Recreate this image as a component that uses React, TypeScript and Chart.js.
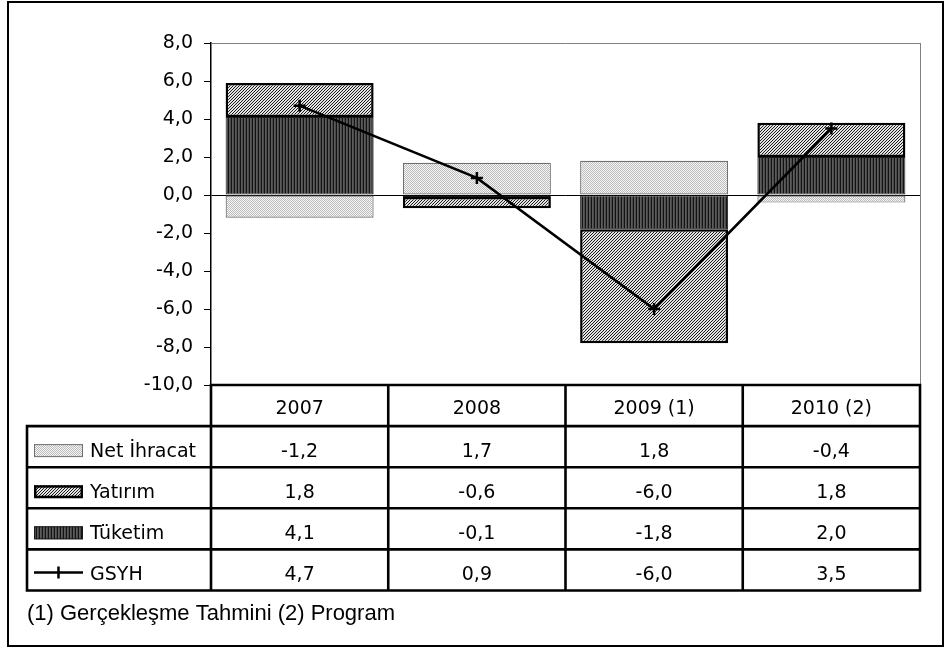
import React, { useEffect, useRef } from 'react';
import { Chart, registerables } from 'chart.js';

Chart.register(...registerables);

// ---- data ----
const categories = ['2007', '2008', '2009 (1)', '2010 (2)'];
const netIhracat = [-1.2, 1.7, 1.8, -0.4];
const yatirim = [1.8, -0.6, -6.0, 1.8];
const tuketim = [4.1, -0.1, -1.8, 2.0];
const gsyh = [4.7, 0.9, -6.0, 3.5];
const seriesLabels = ['Net İhracat', 'Yatırım', 'Tüketim', 'GSYH'];
const yMin = -10;
const yMax = 8;
const yStep = 2;
const footnote = '(1) Gerçekleşme Tahmini (2) Program';

const W = 944;
const H = 647;

function makePattern(w: number, h: number, paint: (g: CanvasRenderingContext2D) => void) {
  const c = document.createElement('canvas');
  c.width = w;
  c.height = h;
  const g = c.getContext('2d')!;
  paint(g);
  return g.createPattern(c, 'repeat')!;
}

const fmt = (v: number) => Number(v).toFixed(1).replace('.', ',');

export default function App() {
  const ref = useRef<HTMLCanvasElement>(null);

  useEffect(() => {
    const canvas = ref.current!;

    const pNet = makePattern(2, 2, (g) => {
      g.fillStyle = '#f6f6f6';
      g.fillRect(0, 0, 2, 2);
      g.fillStyle = '#bcbcbc';
      g.fillRect(0, 0, 1, 1);
      g.fillRect(1, 1, 1, 1);
    });
    const pYat = makePattern(3, 3, (g) => {
      for (let x = 0; x < 3; x++) {
        for (let y = 0; y < 3; y++) {
          g.fillStyle = (x + y) % 3 === 0 ? '#1c1c1c' : '#e2e2e2';
          g.fillRect(x, y, 1, 1);
        }
      }
    });
    const pTuk = makePattern(3, 1, (g) => {
      g.fillStyle = '#141414';
      g.fillRect(0, 0, 1, 1);
      g.fillStyle = '#5c5c5c';
      g.fillRect(1, 0, 1, 1);
      g.fillStyle = '#4a4a4a';
      g.fillRect(2, 0, 1, 1);
    });

    const tableFont = '19px "DejaVu Sans"';
    const rowH = 41.1;
    const tableLeft = 27;

    const tablePlugin = {
      id: 'dataTable',
      beforeDraw(chart: any) {
        const ctx = chart.ctx;
        ctx.save();
        ctx.fillStyle = '#ffffff';
        ctx.fillRect(0, 0, chart.width, chart.height);
        ctx.restore();
      },
      afterDraw(chart: any) {
        const ctx: CanvasRenderingContext2D = chart.ctx;
        const { left: L, right: R, top: T, bottom: B } = chart.chartArea;
        const xs = chart.scales.x;
        const n = categories.length;
        const centers = categories.map((_, i) => xs.getPixelForValue(i));
        const colW = n > 1 ? centers[1] - centers[0] : R - L;
        const bounds = [centers[0] - colW / 2, ...centers.map((c) => c + colW / 2)];

        ctx.save();
        // plot area right border (gray)
        ctx.strokeStyle = '#808080';
        ctx.lineWidth = 1;
        ctx.beginPath();
        ctx.moveTo(Math.round(R) + 0.5, T);
        ctx.lineTo(Math.round(R) + 0.5, B);
        ctx.stroke();

        // table lines
        ctx.strokeStyle = '#000';
        ctx.lineWidth = 2.6;
        ctx.lineCap = 'square';
        const rows = 5;
        ctx.beginPath();
        ctx.moveTo(L, B);
        ctx.lineTo(R, B);
        for (let k = 1; k <= rows; k++) {
          ctx.moveTo(tableLeft, B + rowH * k);
          ctx.lineTo(R, B + rowH * k);
        }
        ctx.moveTo(tableLeft, B + rowH);
        ctx.lineTo(tableLeft, B + rowH * rows);
        bounds.forEach((bx, i) => {
          ctx.moveTo(i === 0 ? L : bx, B);
          ctx.lineTo(i === 0 ? L : bx, B + rowH * rows);
        });
        ctx.stroke();

        // header labels
        ctx.fillStyle = '#000';
        ctx.font = tableFont;
        ctx.textAlign = 'center';
        ctx.textBaseline = 'alphabetic';
        categories.forEach((c, i) => ctx.fillText(c, centers[i], B + 29));

        const seriesData = [netIhracat, yatirim, tuketim, gsyh];
        seriesData.forEach((arr, r) => {
          const top = B + rowH * (r + 1);
          const base = top + 31;
          ctx.textAlign = 'center';
          ctx.fillStyle = '#000';
          arr.forEach((v, i) => ctx.fillText(fmt(v), centers[i], base));
          ctx.textAlign = 'left';
          ctx.fillText(seriesLabels[r], 90, base);
        });

        // legend swatches
        const sx = 34;
        const sw = 49;
        const sh = 13;
        const swatch = (r: number, fill: any, stroke: string, lw: number) => {
          const base = B + rowH * (r + 1) + 31;
          ctx.fillStyle = fill;
          ctx.fillRect(sx, base - sh, sw, sh);
          ctx.strokeStyle = stroke;
          ctx.lineWidth = lw;
          ctx.strokeRect(sx + lw / 2, base - sh + lw / 2, sw - lw, sh - lw);
        };
        swatch(0, pNet, '#707070', 1);
        swatch(1, pYat, '#000', 2.5);
        swatch(2, pTuk, '#1a1a1a', 1);
        // GSYH line legend
        const ly = B + rowH * 4 + 23;
        ctx.strokeStyle = '#000';
        ctx.lineWidth = 2.5;
        ctx.lineCap = 'butt';
        ctx.beginPath();
        ctx.moveTo(sx, ly);
        ctx.lineTo(sx + sw, ly);
        ctx.moveTo(sx + sw / 2, ly - 6);
        ctx.lineTo(sx + sw / 2, ly + 6);
        ctx.stroke();

        // footnote
        ctx.fillStyle = '#000';
        ctx.textAlign = 'left';
        ctx.font = '22px "Liberation Sans"';
        ctx.fillText(footnote, 27, 620);

        // outer border
        ctx.strokeStyle = '#000';
        ctx.lineWidth = 2;
        ctx.strokeRect(8, 2, 935, 644);
        ctx.restore();
      },
    };

    const barCommon = {
      type: 'bar' as const,
      barPercentage: 0.835,
      categoryPercentage: 1,
      borderSkipped: false as const,
      stack: 'bars',
      order: 1,
    };

    const chart = new Chart(canvas, {
      type: 'bar',
      data: {
        labels: categories,
        datasets: [
          { ...barCommon, label: seriesLabels[2], data: tuketim, backgroundColor: pTuk, borderColor: '#1a1a1a', borderWidth: 1 },
          { ...barCommon, label: seriesLabels[1], data: yatirim, backgroundColor: pYat, borderColor: '#000', borderWidth: 2.5 },
          { ...barCommon, label: seriesLabels[0], data: netIhracat, backgroundColor: pNet, borderColor: '#707070', borderWidth: 1.2 },
          {
            type: 'line' as const,
            label: seriesLabels[3],
            data: gsyh,
            borderColor: '#000',
            borderWidth: 2.5,
            pointStyle: 'cross',
            pointRadius: 6,
            pointBorderWidth: 2.5,
            pointBorderColor: '#000',
            pointBackgroundColor: '#000',
            tension: 0,
            fill: false,
            stack: 'line',
            order: 0,
          } as any,
        ],
      },
      options: {
        responsive: false,
        animation: false,
        layout: { padding: { left: 0, top: 43, right: 24, bottom: H - 385 } },
        plugins: {
          legend: { display: false },
          tooltip: { enabled: false },
          title: { display: false },
        },
        scales: {
          x: { display: false, stacked: true, offset: true },
          y: {
            stacked: true,
            min: yMin,
            max: yMax,
            ticks: {
              stepSize: yStep,
              callback: (v: any) => fmt(Number(v)),
              font: { family: 'DejaVu Sans', size: 19 },
              color: '#000',
              padding: 11,
            },
            grid: {
              color: (c: any) => (c.tick && c.tick.value === 0 ? '#000' : c.tick && c.tick.value === yMax ? '#808080' : 'rgba(0,0,0,0)'),
              tickColor: '#000',
              tickLength: 7,
              lineWidth: 1,
            },
            border: { display: true, color: '#000', width: 1.5 },
            afterFit: (s: any) => {
              s.width = 211;
            },
          },
        },
      } as any,
      plugins: [tablePlugin],
    });

    return () => chart.destroy();
  }, []);

  return (
    <div style={{ position: 'fixed', left: 0, top: 0, width: W, height: H, background: '#fff' }}>
      <canvas ref={ref} width={W} height={H} style={{ display: 'block', width: W, height: H }} />
    </div>
  );
}
